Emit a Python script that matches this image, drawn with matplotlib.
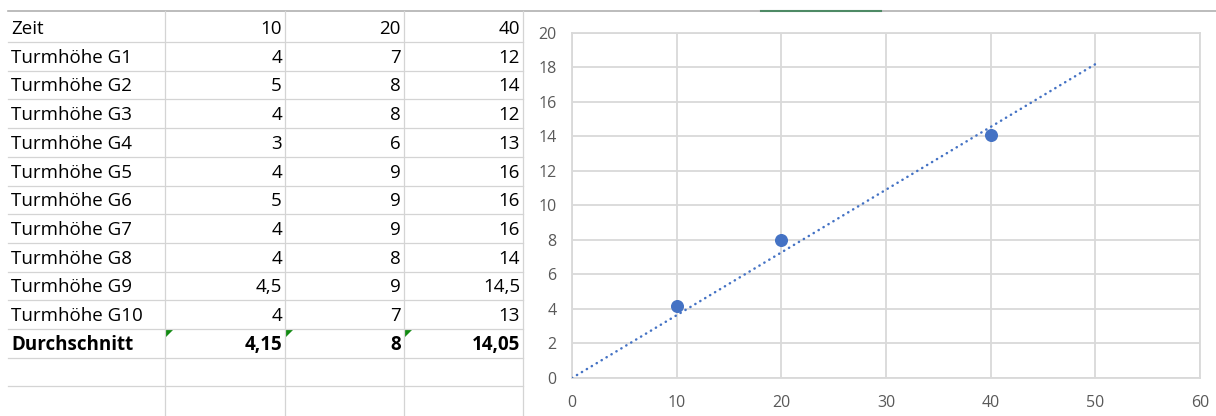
import matplotlib
matplotlib.use("Agg")
import matplotlib.pyplot as plt
import numpy as np
from matplotlib.patches import Polygon

# Messwerte: Turmhöhe je Gruppe zu den Zeitpunkten
zeit = [10, 20, 40]
gruppen = ["Turmhöhe G1", "Turmhöhe G2", "Turmhöhe G3", "Turmhöhe G4",
           "Turmhöhe G5", "Turmhöhe G6", "Turmhöhe G7", "Turmhöhe G8",
           "Turmhöhe G9", "Turmhöhe G10"]
hoehe_10 = [4, 5, 4, 3, 4, 5, 4, 4, 4.5, 4]
hoehe_20 = [7, 8, 8, 6, 9, 9, 9, 8, 9, 7]
hoehe_40 = [12, 14, 12, 13, 16, 16, 16, 14, 14.5, 13]

x_ticks = [0, 10, 20, 30, 40, 50, 60]
y_ticks = [0, 2, 4, 6, 8, 10, 12, 14, 16, 18, 20]
trend_bis = 50

blau = "#4472C4"
grid_col = "#D9D9D9"
cell_col = "#D4D4D4"
text_col = "#595959"
FONT = ["Open Sans", "DejaVu Sans"]

werte = np.array([hoehe_10, hoehe_20, hoehe_40])
mittel = werte.mean(axis=1)


def de(v):
    """Zahl im deutschen Format (Komma)"""
    return f"{round(v, 4):g}".replace(".", ",")


W, H = 1216, 416
fig = plt.figure(figsize=(W / 100, H / 100), dpi=100)

# Overlay in Pixelkoordinaten fuer die Tabelle
bg = fig.add_axes([0, 0, 1, 1])
bg.set_xlim(0, W)
bg.set_ylim(H, 0)
bg.axis("off")

# Obere Linie + markierter Spaltenkopf
bg.plot([8, W], [11, 11], color="#B0B0B0", lw=1.2)
bg.plot([761, 881], [11, 11], color="#4E8A65", lw=1.5)

# Zellraster
row_y0 = 42
row_h = 28.7
for i in range(13):
    y = row_y0 + i * row_h
    if y < H:
        bg.plot([8, 523], [y, y], color=cell_col, lw=0.9)
col_x = [165, 285, 404, 523]
for x in col_x:
    bg.plot([x, x], [11, H], color=cell_col, lw=0.9)

# Tabelleninhalt
zeilen = [("Zeit", zeit)]
for k, g in enumerate(gruppen):
    zeilen.append((g, [hoehe_10[k], hoehe_20[k], hoehe_40[k]]))
zeilen.append(("Durchschnitt", list(mittel)))

num_right = [282, 401, 520]
for i, (label, vals) in enumerate(zeilen):
    yc = 27 + i * row_h
    fw = "bold" if label == "Durchschnitt" else "normal"
    bg.text(11, yc, label, fontsize=13.5, family=FONT, fontweight=fw,
            ha="left", va="center_baseline", color="black")
    for j, v in enumerate(vals):
        bg.text(num_right[j], yc, de(v), fontsize=13.5, family=FONT,
                fontweight=fw, ha="right", va="center_baseline", color="black")

# gruene Fehlerdreiecke in der Durchschnittszeile
ty = row_y0 + 10 * row_h + 1
for x in col_x[:3]:
    bg.add_patch(Polygon([[x + 1, ty], [x + 8, ty], [x + 1, ty + 7]],
                         closed=True, color="#118A11", lw=0))

# Diagramm
x0, x1 = 572, 1200
y0, y1 = 378, 32.7
ax = fig.add_axes([x0 / W, (H - y0) / H, (x1 - x0) / W, (y0 - y1) / H])
ax.set_xlim(x_ticks[0], x_ticks[-1])
ax.set_ylim(y_ticks[0], y_ticks[-1])
ax.set_xticks(x_ticks)
ax.set_yticks(y_ticks)
ax.grid(True, color=grid_col, lw=1.3)
ax.set_axisbelow(True)
for s in ax.spines.values():
    s.set_color(grid_col)
    s.set_linewidth(1.3)
ax.tick_params(length=0, labelsize=11.5, labelcolor=text_col)
ax.tick_params(axis="x", pad=12)
ax.tick_params(axis="y", pad=11)
for t in ax.get_xticklabels() + ax.get_yticklabels():
    t.set_family(FONT)

# lineare Trendlinie durch den Ursprung
zx = np.array(zeit, dtype=float)
m = np.sum(zx * mittel) / np.sum(zx * zx)
tx = np.array([0, trend_bis])
ax.plot(tx, m * tx, color=blau, lw=1.8, linestyle=(0, (0.1, 2.2)),
        dash_capstyle="round", zorder=3)

ax.scatter(zeit, mittel, s=70, color=blau, zorder=4, clip_on=False)

fig.savefig("out.png", dpi=100, facecolor="white")
